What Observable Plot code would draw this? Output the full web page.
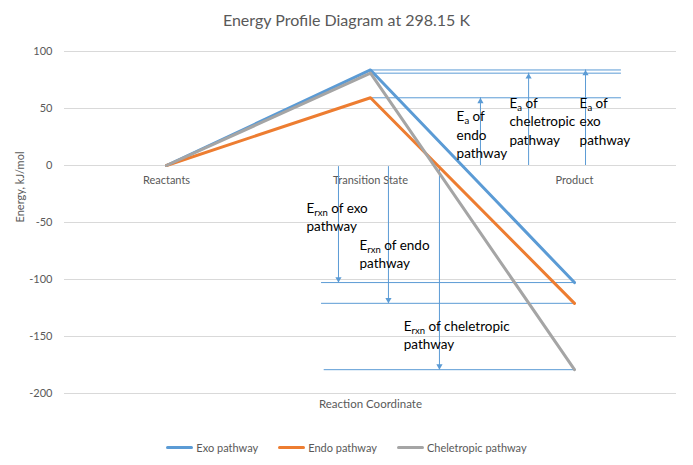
<!DOCTYPE html>
<html>
<head>
<meta charset="utf-8">
<script src="https://cdn.jsdelivr.net/npm/d3@7"></script>
<script src="https://cdn.jsdelivr.net/npm/@observablehq/plot@0.6"></script>
<style>
  body { margin: 0; background: #fff; }
  #wrap { width: 693px; font-family: Lato, "Noto Sans", sans-serif; }
  #title { height: 40px; line-height: 40px; text-align: center; font-size: 16px; color: #595959; }
  #legend { height: 35px; display: flex; justify-content: center; align-items: center; font-size: 11px; color: #595959; }
  .item { display: flex; align-items: center; margin: 0 10px; }
  .sw { width: 27px; height: 3px; margin-right: 3px; border-radius: 1.5px; }
</style>
</head>
<body>
<div id="wrap">
  <div id="title"></div>
  <div id="chart"></div>
  <div id="legend"></div>
</div>
<script>
// ---- data ----
const title = "Energy Profile Diagram at 298.15 K";
const categories = ["Reactants", "Transition State", "Product"];
const seriesNames = ["Exo pathway", "Endo pathway", "Cheletropic pathway"];
const exoValues = [0, 83.8, -102.7];
const endoValues = [0, 59.4, -120.9];
const cheleValues = [0, 81.0, -179.1];
const colors = ["#5B9BD5", "#ED7D31", "#A5A5A5"];
const yTicks = [100, 50, 0, -50, -100, -150, -200];
const yLabel = "Energy, kJ/mol";
const xLabel = "Reaction Coordinate";

// annotation anchors in data units (x = category index, y = kJ/mol)
const eaArrowX = [2.054, 1.539, 1.775];     // exo, endo, cheletropic
const erxnArrowX = [0.843, 1.088, 1.338];   // exo, endo, cheletropic
const tsLineStart = [1.0, 1.0, 1.0];
const tsLineEnd = [2.23, 2.23, 2.23];
const prodLineStart = [0.76, 0.76, 0.773];
const prodLineEnd = [2.0, 2.0, 2.0];
const eaText = ["E_a of\nexo\npathway", "E_a of\nendo\npathway", "E_a of\ncheletropic\npathway"];
const eaTextX = [2.025, 1.422, 1.681];
const eaTextY = [39.5, 27.8, 39.5];
const erxnText = ["E_rxn of exo\npathway", "E_rxn of endo\npathway", "E_rxn of cheletropic\npathway"];
const erxnTextX = [0.686, 0.946, 1.163];
const erxnTextY = [-44.3, -76.6, -147.9];

// ---- build ----
const allValues = [exoValues, endoValues, cheleValues];
const points = seriesNames.flatMap((s, i) => categories.map((c, j) => ({series: s, x: j, y: allValues[i][j]})));
const tsRows = seriesNames.map((s, i) => ({y: allValues[i][1], x1: tsLineStart[i], x2: tsLineEnd[i]}));
const prodRows = seriesNames.map((s, i) => ({y: allValues[i][2], x1: prodLineStart[i], x2: prodLineEnd[i]}));
const upRows = seriesNames.map((s, i) => ({x: eaArrowX[i], y1: 0, y2: allValues[i][1]}));
const downRows = seriesNames.map((s, i) => ({x: erxnArrowX[i], y1: -1, y2: allValues[i][2]}));
const textRows = [
  ...eaText.map((t, i) => ({text: t, x: eaTextX[i], y: eaTextY[i]})),
  ...erxnText.map((t, i) => ({text: t, x: erxnTextX[i], y: erxnTextY[i]}))
];
const accent = "#5B9BD5";

document.getElementById("title").textContent = title;

const chart = Plot.plot({
  width: 693, height: 390,
  marginLeft: 64, marginRight: 17, marginTop: 11, marginBottom: 37,
  x: {domain: [-0.5, 2.5], axis: null},
  y: {domain: [-200, 100], axis: null},
  color: {domain: seriesNames, range: colors},
  style: {fontFamily: "Lato, 'Noto Sans', sans-serif", background: "#fff"},
  marks: [
    Plot.gridY(yTicks, {stroke: "#D9D9D9", strokeOpacity: 1, strokeWidth: 1}),
    Plot.axisY(yTicks, {tickSize: 0, tickPadding: 12, fontSize: 11, fill: "#595959", label: null, tickFormat: d => String(d)}),
    Plot.text([yLabel], {frameAnchor: "left", dx: -44, rotate: -90, fontSize: 11, fill: "#595959"}),
    Plot.text(categories, {x: (d, i) => i, y: 0, dy: 15, fontSize: 11, fill: "#595959"}),
    Plot.text([xLabel], {frameAnchor: "bottom", dy: 14, fontSize: 11.5, fill: "#595959"}),
    Plot.ruleY(tsRows, {y: "y", x1: "x1", x2: "x2", stroke: accent, strokeWidth: 1}),
    Plot.ruleY(prodRows, {y: "y", x1: "x1", x2: "x2", stroke: accent, strokeWidth: 1}),
    Plot.ruleX(upRows, {x: "x", y1: "y1", y2: "y2", stroke: accent, strokeWidth: 1}),
    Plot.ruleX(downRows, {x: "x", y1: "y1", y2: "y2", stroke: accent, strokeWidth: 1}),
    Plot.dot(upRows, {x: "x", y: "y2", symbol: "triangle", r: 2.3, fill: accent, stroke: null, dy: 3.6}),
    Plot.dot(downRows, {x: "x", y: "y2", symbol: "triangle", r: 2.3, fill: accent, stroke: null, rotate: 180, dy: -3.6}),
    Plot.line(points, {x: "x", y: "y", z: "series", stroke: "series", strokeWidth: 3, strokeLinejoin: "round", strokeLinecap: "round"}),
    Plot.text(textRows, {x: "x", y: "y", text: "text", textAnchor: "start", lineAnchor: "middle", lineHeight: 1.36, fontSize: 13.5, fill: "#000"})
  ]
});

// subscripts: "E_a" / "E_rxn"
(function applySubscripts(svg) {
  const ns = "http://www.w3.org/2000/svg";
  d3.select(svg).selectAll("text, tspan").each(function () {
    if (this.children.length) return;
    const m = this.textContent.match(/^(.*?)E_(\w+)(.*)$/);
    if (!m) return;
    this.textContent = "";
    this.appendChild(document.createTextNode(m[1] + "E"));
    const sub = document.createElementNS(ns, "tspan");
    sub.setAttribute("font-size", "9.5");
    sub.setAttribute("dy", "3");
    sub.textContent = m[2];
    this.appendChild(sub);
    const rest = document.createElementNS(ns, "tspan");
    rest.setAttribute("dy", "-3");
    rest.textContent = m[3];
    this.appendChild(rest);
  });
})(chart);

document.getElementById("chart").appendChild(chart);

const legend = document.getElementById("legend");
seriesNames.forEach((s, i) => {
  const item = document.createElement("div");
  item.className = "item";
  const sw = document.createElement("span");
  sw.className = "sw";
  sw.style.background = colors[i];
  const lab = document.createElement("span");
  lab.textContent = s;
  item.appendChild(sw);
  item.appendChild(lab);
  legend.appendChild(item);
});
</script>
</body>
</html>
